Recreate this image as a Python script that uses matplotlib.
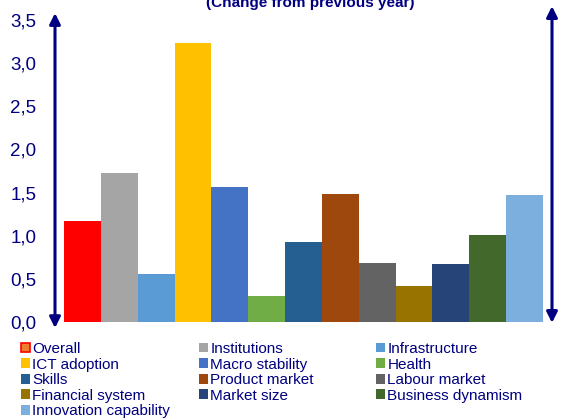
import matplotlib.pyplot as plt
from matplotlib.patches import Patch

plt.rcParams['font.family'] = ['Liberation Sans', 'DejaVu Sans']

# Pillar scores, change from previous year
pillars = ['Overall', 'Institutions', 'Infrastructure', 'ICT adoption', 'Macro stability',
           'Health', 'Skills', 'Product market', 'Labour market', 'Financial system',
           'Market size', 'Business dynamism', 'Innovation capability']
changes = [1.17, 1.73, 0.56, 3.23, 1.57, 0.30, 0.93, 1.48, 0.68, 0.42, 0.67, 1.01, 1.47]
colors = ['#FF0000', '#A5A5A5', '#5B9BD5', '#FFC000', '#4472C4', '#70AD47', '#255E91',
          '#9E480E', '#636363', '#997300', '#264478', '#43682B', '#7CAFDD']
yticks = [0.0, 0.5, 1.0, 1.5, 2.0, 2.5, 3.0, 3.5]

navy = '#000080'
W, H = 572, 419

fig = plt.figure(figsize=(W / 100, H / 100), dpi=100)
# axes placed in pixels: x 55..552, y 20..322
ax = fig.add_axes([55 / W, 1 - 322 / H, 497 / W, 302 / H])

x = list(range(len(pillars)))
ax.bar(x, changes, width=1.0, color=colors, linewidth=0)
ax.set_xlim(-0.744, 12.744)
ax.set_ylim(0, 3.5)

for s in ax.spines.values():
    s.set_visible(False)
ax.set_xticks([])
ax.set_yticks(yticks)
ax.set_yticklabels([f'{v:.1f}'.replace('.', ',') for v in yticks])
ax.tick_params(axis='y', length=0, pad=13.5, labelsize=13.5, labelcolor=navy)

# double-headed arrows on both sides
arrow = dict(arrowstyle='<|-|>', color=navy, lw=2.2, mutation_scale=16, shrinkA=0, shrinkB=0)
ax.annotate('', xy=(-0.744, 3.58), xytext=(-0.744, -0.07), arrowprops=arrow, annotation_clip=False)
ax.annotate('', xy=(12.744, 3.66), xytext=(12.744, -0.01), arrowprops=arrow, annotation_clip=False)

fig.text(310 / W, 1 - 3 / H, '(Change from previous year)', ha='center', va='center',
         fontsize=11, fontweight='bold', color=navy)

# legend in three columns, filled row by row
handles = [Patch(facecolor=c, edgecolor='none') for c in colors]
handles[0] = Patch(facecolor='#ED7D31', edgecolor='#FF0000', linewidth=1.2)
col_x = [21, 199, 376]
for k in range(3):
    idx = list(range(k, len(pillars), 3))
    fig.legend([handles[i] for i in idx], [pillars[i] for i in idx],
               loc='upper left', bbox_to_anchor=(col_x[k] / W, 1 - 342 / H),
               frameon=False, fontsize=11, labelcolor=navy,
               handlelength=0.6, handleheight=0.6, handletextpad=0.15,
               labelspacing=0.1, borderpad=0, borderaxespad=0)

fig.savefig('out.png', dpi=100)
